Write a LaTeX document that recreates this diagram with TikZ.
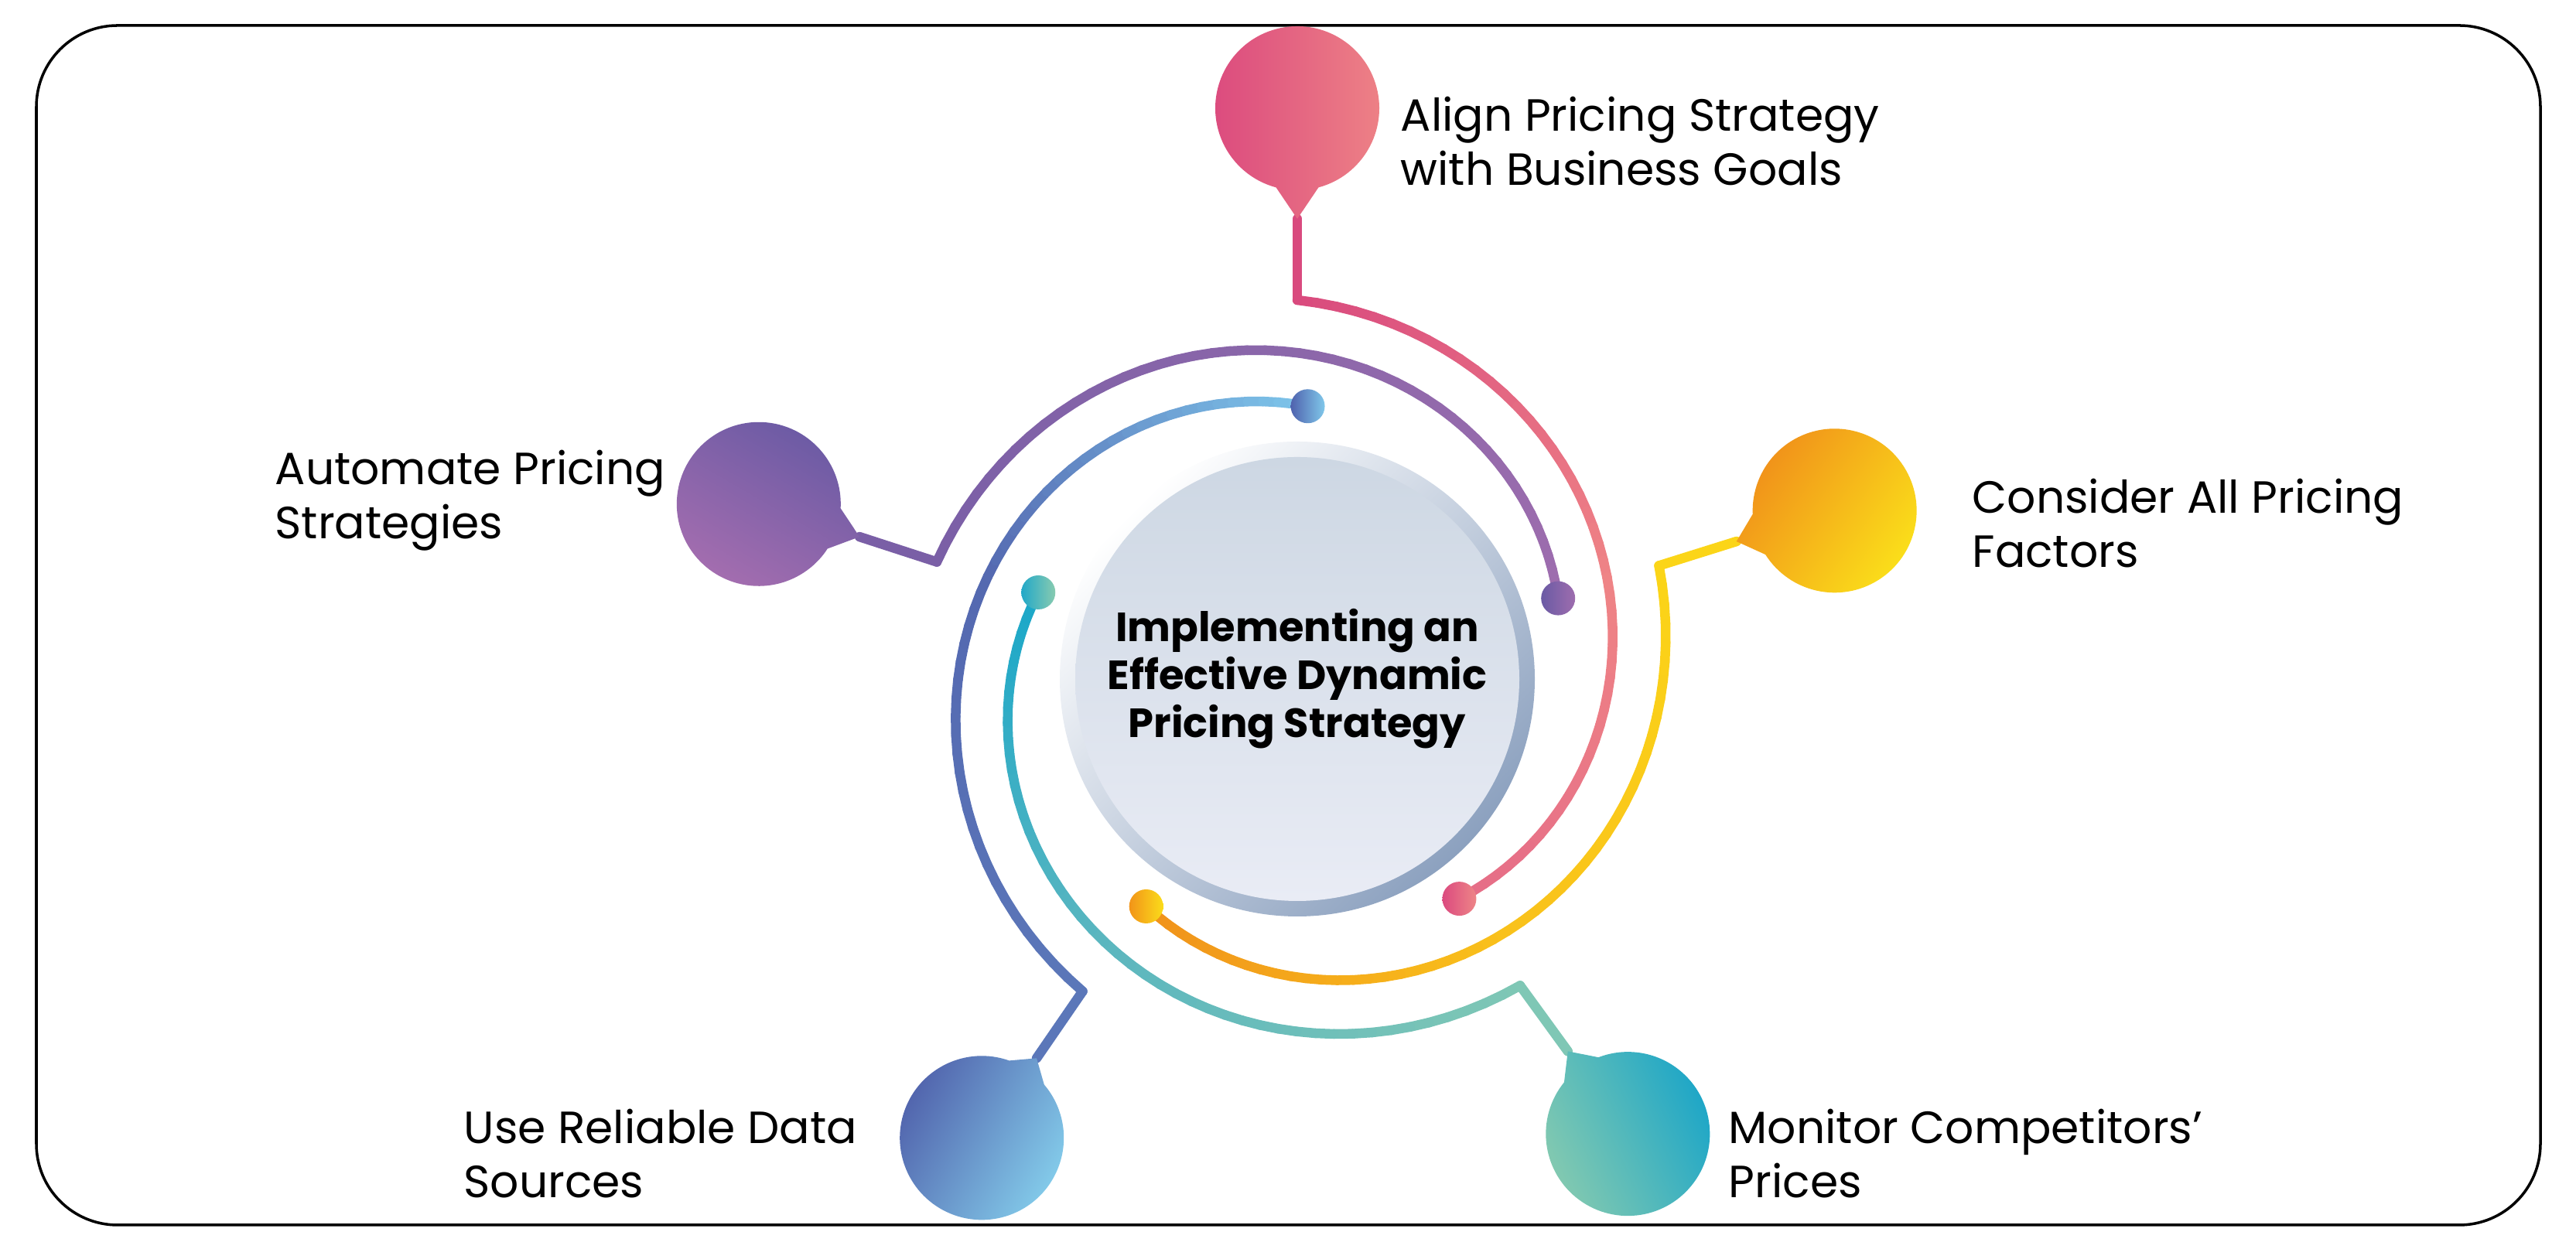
\documentclass[tikz,border=0pt]{standalone}
\usepackage{fontspec}
\setmainfont{Poppins}
\usetikzlibrary{calc}

% centre circle
\definecolor{ringdark}{HTML}{8CA1BF}
\definecolor{disktop}{HTML}{CDD7E3}
\definecolor{diskbottom}{HTML}{E9ECF5}
% branch colours: A,B,C along the wire, L,R bubble, DL,DR end dot
\definecolor{alignA}{HTML}{D94A7E}\definecolor{alignB}{HTML}{EF8486}\definecolor{alignC}{HTML}{E56C87}
\definecolor{alignL}{HTML}{DB497E}\definecolor{alignR}{HTML}{EE8386}
\definecolor{alignDL}{HTML}{DB4A7F}\definecolor{alignDR}{HTML}{EE8587}
\definecolor{considerA}{HTML}{FBD518}\definecolor{considerB}{HTML}{F9C01B}\definecolor{considerC}{HTML}{F0911B}
\definecolor{considerL}{HTML}{F08D1A}\definecolor{considerR}{HTML}{FBE31A}
\definecolor{considerDL}{HTML}{F29419}\definecolor{considerDR}{HTML}{FBDC1A}
\definecolor{monitorA}{HTML}{7FC7B5}\definecolor{monitorB}{HTML}{5BB6BF}\definecolor{monitorC}{HTML}{19A7C9}
\definecolor{monitorL}{HTML}{88CBAF}\definecolor{monitorR}{HTML}{1AA5C8}
\definecolor{monitorDL}{HTML}{22A8C8}\definecolor{monitorDR}{HTML}{88CBB0}
\definecolor{useA}{HTML}{5B77B9}\definecolor{useB}{HTML}{5468B0}\definecolor{useC}{HTML}{7EC6EB}
\definecolor{useL}{HTML}{4F5FAA}\definecolor{useR}{HTML}{84CDEB}
\definecolor{useDL}{HTML}{4F62AE}\definecolor{useDR}{HTML}{80C8EA}
\definecolor{automateA}{HTML}{7A5FA6}\definecolor{automateB}{HTML}{8C67AA}\definecolor{automateC}{HTML}{9E6DAE}
\definecolor{automateL}{HTML}{A36DAF}\definecolor{automateR}{HTML}{6A5AA4}
\definecolor{automateDL}{HTML}{6A5AA4}\definecolor{automateDR}{HTML}{9E6DAE}

\begin{document}
\begin{tikzpicture}[
    label text/.style={anchor=north west, inner sep=0pt, align=left, font=\fontsize{16.6}{19.9}\selectfont},
    wire/.style={line width=0.125cm, line cap=round, line join=round}
  ]
    \useasboundingbox (0,0) rectangle (33.30,16.15);

    % Outer frame
    \draw[line width=1pt, rounded corners=1.05cm] (0.47,0.31) rectangle (32.84,15.82);

    % Centre circle: ring and disk
    \coordinate (hub) at (16.77,7.37);
    \shade[top color=white, bottom color=ringdark, shading angle=45] (hub) circle (3.07);
    \shade[top color=disktop, bottom color=diskbottom] (hub) circle (2.87);
    \node[font=\bfseries\fontsize{15}{17.6}\selectfont, align=center] (title) at (hub) {Implementing an\\Effective Dynamic\\Pricing Strategy};

    % Branches: angle / bubble distance / sweep of the spiral / bubble shading angle / name
    \foreach \ang/\dist/\sweep/\sa/\bname in {90/7.38/143.6/90/align, 17.4/7.28/141/55/consider,
        -54/7.27/144.5/115/monitor, -124.5/7.20/147.7/60/use, 162/7.32/144.8/150/automate} {
        % spiral wire, drawn in short pieces to get the colour run
        \foreach \i in {0,...,47} {
            \pgfmathsetmacro\aa{\ang-\sweep*\i/48}
            \pgfmathsetmacro\ab{\ang-\sweep*(\i+1)/48}
            \pgfmathsetmacro\ra{4.90-1.37*\i/48}
            \pgfmathsetmacro\rb{4.90-1.37*(\i+1)/48}
            \ifnum\i<24
                \pgfmathtruncatemacro\p{100*(\i+0.5)/24}
                \colorlet{segcol}{\bname B!\p!\bname A}
            \else
                \pgfmathtruncatemacro\p{100*(\i-23.5)/24}
                \colorlet{segcol}{\bname C!\p!\bname B}
            \fi
            \draw[wire, segcol] ($(hub)+(\aa:\ra)$) -- ($(hub)+(\ab:\rb)$);
        }
        % stem from the bubble tip to the spiral
        \coordinate (corner-\bname) at ($(hub)+(\ang:4.90)$);
        \coordinate (tip-\bname) at ($(hub)+(\ang:5.95)$);
        \coordinate (bub-\bname) at ($(hub)+(\ang:\dist)$);
        \draw[wire, \bname A] (tip-\bname) -- (corner-\bname);
        % bubble with its pin
        \pgfmathsetmacro\d{\ang+180}
        \shade[left color=\bname L, right color=\bname R, shading angle=\sa]
            ($(bub-\bname)+(\d+15:1.06)$) arc[start angle=\d+15, delta angle=330, radius=1.06] -- (tip-\bname) -- cycle;
        % end dot
        \pgfmathsetmacro\ea{\ang-\sweep}
        \shade[left color=\bname DL, right color=\bname DR] ($(hub)+(\ea:3.53)$) circle (0.22);
    }

    % Labels
    \node[label text] (align) at (18.10,14.91) {Align Pricing Strategy\\with Business Goals};
    \node[label text] (automate) at (3.55,10.34) {Automate Pricing\\Strategies};
    \node[label text] (consider) at (25.49,9.97) {Consider All Pricing\\Factors};
    \node[label text] (use) at (5.99,1.82) {Use Reliable Data\\Sources};
    \node[label text] (monitor) at (22.34,1.82) {Monitor Competitors\symbol{39}\\Prices};
\end{tikzpicture}
\end{document}
